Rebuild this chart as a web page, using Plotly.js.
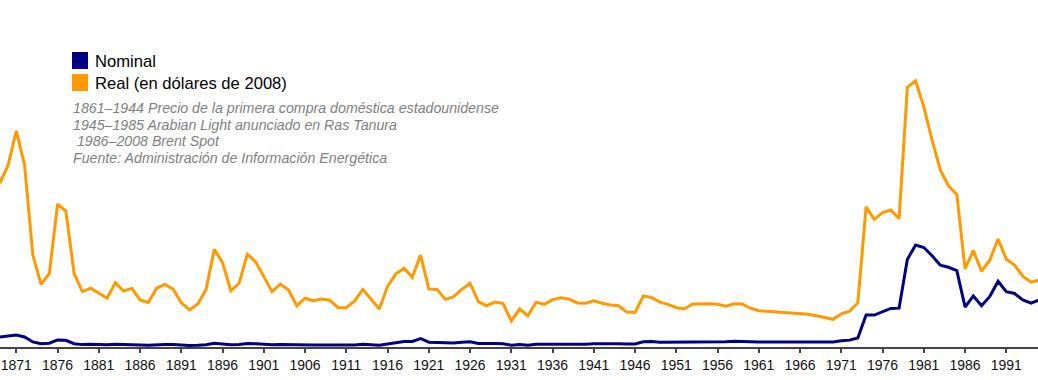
<!DOCTYPE html>
<html>
<head>
<meta charset="utf-8">
<script src="https://cdn.plot.ly/plotly-3.0.1.min.js"></script>
<style>html,body{margin:0;padding:0;background:#fff;}#chart{width:1038px;height:380px;}</style>
</head>
<body>
<div id="chart"></div>
<script>
// Years 1869..1995
const years = [];
for (let y = 1869; y <= 1995; y++) years.push(y);

// Nominal price (US$ per barrel), 1869..1995
const nominal = [
 3.64,3.86,4.34,3.64,1.83,1.17,1.35,2.56,2.42,1.19,
 0.86,0.95,0.86,0.78,1.00,0.84,0.88,0.71,0.67,0.88,
 0.94,0.87,0.67,0.56,0.64,0.84,1.36,1.18,0.79,0.91,
 1.29,1.19,0.96,0.80,0.94,0.86,0.62,0.73,0.72,0.72,
 0.70,0.61,0.61,0.74,0.95,0.81,0.64,1.10,1.56,1.98,
 2.01,3.07,1.73,1.61,1.34,1.43,1.68,1.88,1.30,1.17,
 1.27,1.19,0.65,0.87,0.67,1.00,0.97,1.09,1.18,1.13,
 1.02,1.02,1.14,1.19,1.20,1.21,1.05,1.12,1.90,1.99,
 1.71,1.71,1.71,1.71,1.93,1.93,1.93,1.93,1.90,2.08,
 2.08,1.90,1.80,1.80,1.80,1.80,1.80,1.80,1.80,1.80,
 1.80,1.80,2.24,2.48,3.29,11.58,11.53,12.80,13.92,14.02,
 31.61,36.83,35.93,32.97,29.55,28.78,27.56,14.43,18.44,14.92,
 18.23,23.73,20.00,19.32,16.97,15.82,17.02
];
// Real price (2008 US$ per barrel), 1869..1995
const real = [
 59.1,65.7,78.0,65.7,33.2,22.6,26.6,51.6,49.1,26.6,
 20.0,21.2,19.4,17.6,23.2,20.2,21.2,17.0,16.1,21.2,
 22.6,20.9,16.0,13.4,15.5,20.8,35.3,30.4,20.3,23.0,
 33.5,30.8,25.4,20.0,22.7,20.6,14.9,17.6,16.7,17.3,
 16.9,14.2,14.2,16.6,20.8,17.3,13.7,22.0,26.4,28.4,
 25.2,33.2,20.9,20.8,17.2,18.2,20.8,23.0,16.4,14.9,
 16.2,15.7,9.4,13.7,11.3,16.2,15.4,17.1,17.8,17.3,
 15.9,15.8,16.7,15.8,15.2,14.9,12.6,12.5,18.4,17.9,
 16.2,15.4,14.2,13.8,15.5,15.5,15.6,15.4,14.7,15.6,
 15.5,14.0,13.1,12.9,12.7,12.6,12.4,12.0,11.8,11.3,
 10.7,10.0,12.0,12.9,16.0,50.6,46.1,48.5,49.5,46.3,
 93.8,96.1,86.7,74.7,63.9,58.1,55.1,28.2,34.8,27.4,
 31.4,39.0,31.7,29.6,25.6,23.4,24.2
];

const seriesNames = ["Nominal", "Real (en dólares de 2008)"];
const noteLines = [
 "1861–1944 Precio de la primera compra doméstica estadounidense",
 "1945–1985 Arabian Light anunciado en Ras Tanura",
 "\u00a01986–2008 Brent Spot",
 "Fuente: Administración de Información Energética"
];

const navy = "#000080", orange = "#FF9900";
const W = 1038, plotH = 347;
const px = v => v / W, py = v => 1 - v / plotH;

const traces = [
 {x: years, y: real, type: "scatter", mode: "lines", name: seriesNames[1],
  line: {color: orange, width: 3}, hoverinfo: "skip"},
 {x: years, y: nominal, type: "scatter", mode: "lines", name: seriesNames[0],
  line: {color: navy, width: 3}, hoverinfo: "skip"}
];

const font = "Liberation Sans, Arial, sans-serif";
const shapes = [
 {type: "rect", xref: "paper", yref: "paper", x0: px(72), x1: px(88), y0: py(69), y1: py(52),
  fillcolor: navy, line: {width: 0}},
 {type: "rect", xref: "paper", yref: "paper", x0: px(72), x1: px(88), y0: py(91), y1: py(74),
  fillcolor: orange, line: {width: 0}}
];
const annotations = [
 {text: seriesNames[0], x: px(93.5), y: py(61.5), xref: "paper", yref: "paper", xanchor: "left", yanchor: "middle",
  showarrow: false, borderpad: 0, font: {family: font, size: 16.6, color: "#000"}},
 {text: seriesNames[1], x: px(93.5), y: py(83.5), xref: "paper", yref: "paper", xanchor: "left", yanchor: "middle",
  showarrow: false, borderpad: 0, font: {family: font, size: 16.6, color: "#000"}}
];
const noteY = [108, 124.8, 141.3, 158];
noteLines.forEach((t, i) => annotations.push({
 text: "<i>" + t + "</i>", x: px(71.5), y: py(noteY[i]), xref: "paper", yref: "paper",
 xanchor: "left", yanchor: "middle", showarrow: false, borderpad: 0,
 font: {family: font, size: 14.2, color: "#808080"}
}));

const layout = {
 width: 1038, height: 380,
 margin: {l: 0, r: 0, t: 0, b: 33, pad: 0},
 paper_bgcolor: "#fff", plot_bgcolor: "#fff",
 showlegend: false,
 xaxis: {
  range: [1869.02, 1994.84], tick0: 1871, dtick: 5, ticks: "outside", ticklen: 4, tickwidth: 2,
  tickcolor: "#444", showline: true, linecolor: "#444", linewidth: 2, showgrid: false, zeroline: false,
  tickfont: {family: font, size: 14, color: "#111"}, fixedrange: true
 },
 yaxis: {range: [0, 347 / 2.77], visible: false, showgrid: false, zeroline: false, fixedrange: true},
 shapes: shapes, annotations: annotations
};

Plotly.newPlot("chart", traces, layout, {displayModeBar: false, staticPlot: true});
</script>
</body>
</html>
